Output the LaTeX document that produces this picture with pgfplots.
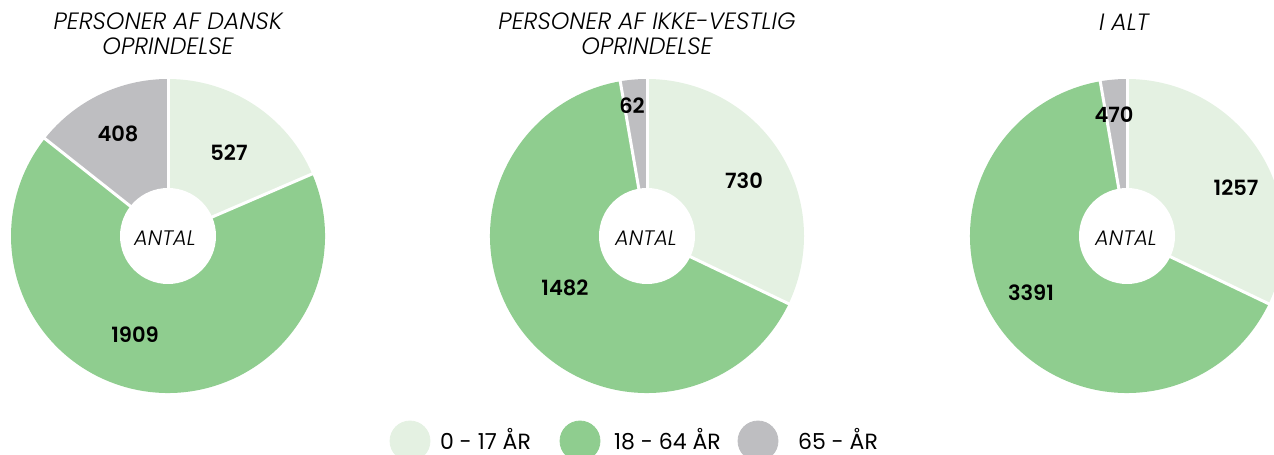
\documentclass[border=0pt]{standalone}
\usepackage{fontspec}
\setmainfont{Poppins}[BoldFont={Poppins SemiBold}, ItalicFont={Poppins Light Italic}]
\usepackage{pgfplots}
\usepackage{pgfplotstable}
\pgfplotsset{compat=1.18}
\definecolor{cA}{RGB}{228,241,226}
\definecolor{cB}{RGB}{143,205,143}
\definecolor{cC}{RGB}{190,190,193}

% donut centres (pixel coordinates), labelled values and the wedge
% shares as drawn in the reference (the "I ALT" donut is drawn with
% the same shares as the middle donut)
\pgfplotstableread{
cx   cy    a    b    c    wa   wb   wc
168  -236  527  1909 408  527  1909 408
647  -236  730  1482 62   730  1482 62
1127 -236  1257 3391 470  730  1482 62
}\donutdata

\newcommand{\Rout}{78.5pt}
\newcommand{\Rin}{24pt}

\newcommand{\donut}[1]{%
  \pgfplotstablegetelem{#1}{cx}\of\donutdata\let\dcx\pgfplotsretval
  \pgfplotstablegetelem{#1}{cy}\of\donutdata\let\dcy\pgfplotsretval
  \pgfplotstablegetelem{#1}{wa}\of\donutdata\let\dva\pgfplotsretval
  \pgfplotstablegetelem{#1}{wb}\of\donutdata\let\dvb\pgfplotsretval
  \pgfplotstablegetelem{#1}{wc}\of\donutdata\let\dvc\pgfplotsretval
  \pgfmathsetmacro\dtot{\dva+\dvb+\dvc}
  \pgfmathsetmacro\angA{90-360*(\dva/\dtot)}
  \pgfmathsetmacro\angB{\angA-360*(\dvb/\dtot)}
  \edef\doit{%
    \noexpand\fill[cA] (axis cs:\dcx,\dcy) -- ++(90:\Rout) arc[start angle=90,end angle=\angA,radius=\Rout] -- cycle;
    \noexpand\fill[cB] (axis cs:\dcx,\dcy) -- ++(\angA:\Rout) arc[start angle=\angA,end angle=\angB,radius=\Rout] -- cycle;
    \noexpand\fill[cC] (axis cs:\dcx,\dcy) -- ++(\angB:\Rout) arc[start angle=\angB,end angle=-270,radius=\Rout] -- cycle;
    \noexpand\draw[white,line width=1.5pt] (axis cs:\dcx,\dcy) -- ++(90:\Rout+1pt);
    \noexpand\draw[white,line width=1.5pt] (axis cs:\dcx,\dcy) -- ++(\angA:\Rout+1pt);
    \noexpand\draw[white,line width=1.5pt] (axis cs:\dcx,\dcy) -- ++(\angB:\Rout+1pt);
    \noexpand\fill[white] (axis cs:\dcx,\dcy) circle[radius=\Rin];
  }\doit
}

\begin{document}
\begin{tikzpicture}
\begin{axis}[
  scale only axis, width=637pt, height=227.5pt,
  xmin=0, xmax=1274, ymin=-455, ymax=0,
  hide axis, clip=true, clip marker paths=true,
  nodes={inner sep=0pt},
]
\donut{0}
\donut{1}
\donut{2}

\begin{scope}[every node/.style={font=\fontsize{10.5}{12}\selectfont\bfseries}]
\node at (axis cs:229,-153) {527};
\node at (axis cs:118,-134) {408};
\node at (axis cs:135,-335) {1909};
\node at (axis cs:744,-181) {730};
\node at (axis cs:632,-106) {62};
\node at (axis cs:565,-288) {1482};
\node at (axis cs:1236,-188) {1257};
\node at (axis cs:1114,-115) {470};
\node at (axis cs:1031,-293) {3391};
\end{scope}

\begin{scope}[every node/.style={font=\fontsize{10.5}{12}\selectfont\itshape}]
\node at (axis cs:165,-238) {ANTAL};
\node at (axis cs:646,-238) {ANTAL};
\node at (axis cs:1126,-238) {ANTAL};
\end{scope}
\begin{scope}[every node/.style={font=\fontsize{11.8}{12.5}\selectfont\itshape}]
\node[align=center] at (axis cs:168,-34) {PERSONER AF DANSK\\[0pt]OPRINDELSE};
\node[align=center] at (axis cs:647,-34) {PERSONER AF IKKE-VESTLIG\\[0pt]OPRINDELSE};
\node at (axis cs:1124,-22) {I ALT};
\end{scope}

% legend
\addplot[only marks, mark=*, mark size=10pt, color=cA] coordinates {(410,-441)};
\addplot[only marks, mark=*, mark size=10pt, color=cB] coordinates {(580,-441)};
\addplot[only marks, mark=*, mark size=10pt, color=cC] coordinates {(758,-441)};
\begin{scope}[every node/.style={font=\fontsize{11}{12}\selectfont, anchor=base west}]
\node at (axis cs:433,-450) {0 - 17 ÅR};
\node at (axis cs:607,-450) {18 - 64 ÅR};
\node at (axis cs:791,-450) {65 - ÅR};
\end{scope}
\end{axis}
\pgfresetboundingbox
\useasboundingbox (current axis.south west) rectangle (current axis.north east);
\end{tikzpicture}
\end{document}
